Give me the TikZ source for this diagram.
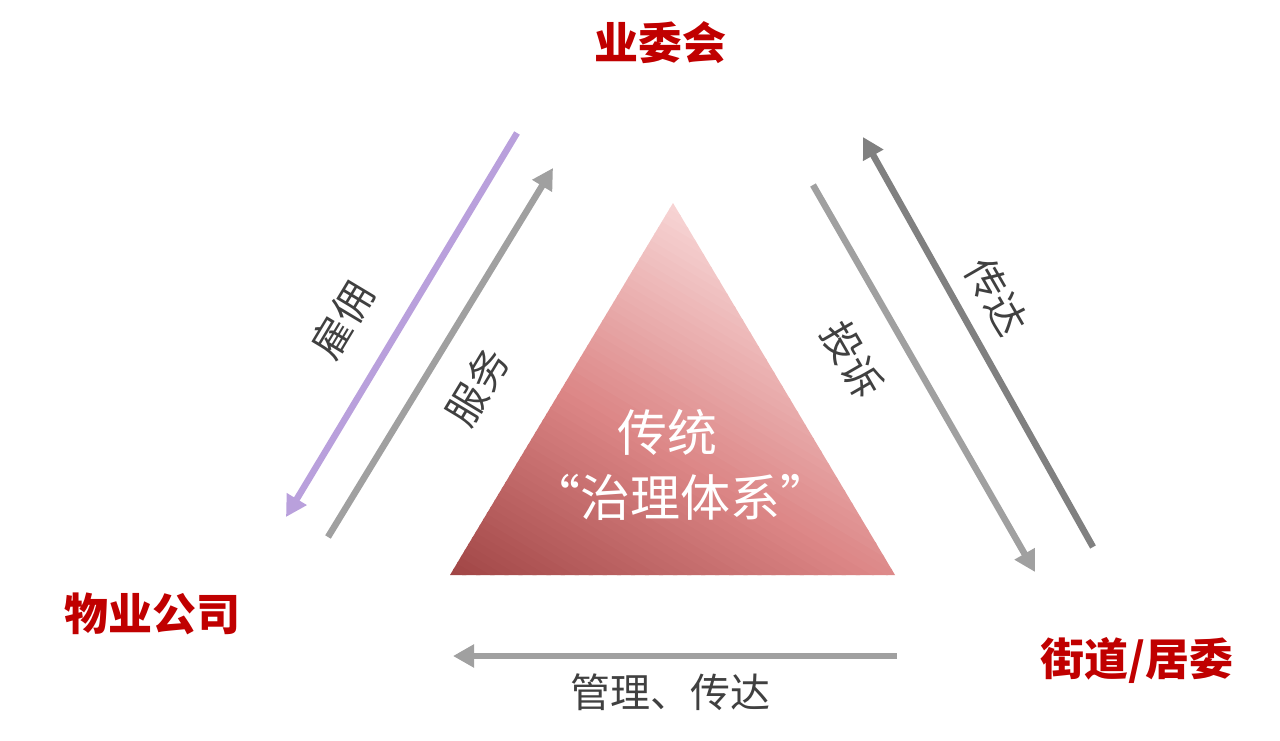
\documentclass[tikz,border=0pt]{standalone}
\usepackage{fontspec}
\setmainfont{Noto Sans CJK SC}
\usetikzlibrary{arrows.meta}
\definecolor{titlered}{HTML}{C00000}
\definecolor{lblgray}{HTML}{404040}
\definecolor{arrgray}{HTML}{A0A0A0}
\definecolor{arrdark}{HTML}{808080}
\definecolor{arrpurple}{HTML}{B9A0DC}
\definecolor{triTop}{HTML}{F7D5D5}
\definecolor{triMid}{HTML}{DC8686}
\definecolor{triBot}{HTML}{A04545}
\tikzset{
  title/.style={text=titlered, font=\fontsize{44}{50}\selectfont\bfseries, inner sep=0pt},
  lbl/.style={text=lblgray, font=\fontsize{40}{46}\selectfont, inner sep=0pt},
  center/.style={text=white, font=\fontsize{50}{56}\selectfont, inner sep=0pt},
  flow/.style={line width=6.5pt, -{Triangle[length=21pt,width=22pt]}},
}
\begin{document}
\begin{tikzpicture}[x=1pt,y=-1pt]
\useasboundingbox (0,0) rectangle (1280,741);
% triangle with linear gradient from bottom-left corner to apex
\coordinate (apex) at (673,203);
\coordinate (bl) at (450,575);
\coordinate (br) at (895,575);
\begin{scope}
  \clip (apex) -- (br) -- (bl) -- cycle;
  \begin{scope}[shift={(bl)}, rotate=59.06]
    \foreach \i in {0,...,29}{
      \pgfmathsetmacro\ta{\i/60*433.7-1}
      \pgfmathsetmacro\tb{(\i+1)/60*433.7+1}
      \pgfmathtruncatemacro\pc{round((\i+0.5)/30*100)}
      \fill[triMid!\pc!triBot] (\ta,-400) rectangle (\tb,400);
    }
    \foreach \i in {30,...,59}{
      \pgfmathsetmacro\ta{\i/60*433.7}
      \pgfmathsetmacro\tb{(\i+1)/60*433.7+1}
      \pgfmathtruncatemacro\pc{round((\i-30+0.5)/30*100)}
      \fill[triTop!\pc!triMid] (\ta,-400) rectangle (\tb,400);
    }
  \end{scope}
\end{scope}
\node[center] (t1) at (667,432) {传统};
\node[center] (t2) at (680,497) {“治理体系”};
% titles
\node[title] (ywh) at (660,43) {业委会};
\node[title] (wy) at (152,614) {物业公司};
\node[title] (jd) at (1137,660) {街道/居委};
% arrow end points
\coordinate (p1s) at (517,133);
\coordinate (p1e) at (286,517);
\coordinate (g1s) at (328,537);
\coordinate (g1e) at (553,168);
\coordinate (g2s) at (813,185);
\coordinate (g2e) at (1035,572);
\coordinate (d2s) at (1093,547);
\coordinate (d2e) at (863,137);
\coordinate (b3s) at (897,656);
\coordinate (b3e) at (453,656);
\draw[flow, draw=arrpurple, color=arrpurple] (p1s) -- (p1e);
\draw[flow, draw=arrgray, color=arrgray] (g1s) -- (g1e);
\draw[flow, draw=arrgray, color=arrgray] (g2s) -- (g2e);
\draw[flow, draw=arrdark, color=arrdark] (d2s) -- (d2e);
\draw[flow, draw=arrgray, color=arrgray] (b3s) -- (b3e);
% labels
\node[lbl, rotate=59] (l1) at (342,320) {雇佣};
\node[lbl, rotate=59] (l2) at (477,387) {服务};
\node[lbl, rotate=-60] (l3) at (853,360) {投诉};
\node[lbl, rotate=-60] (l4) at (997,297) {传达};
\node[lbl] (l5) at (670,692) {管理、传达};
\end{tikzpicture}
\end{document}
